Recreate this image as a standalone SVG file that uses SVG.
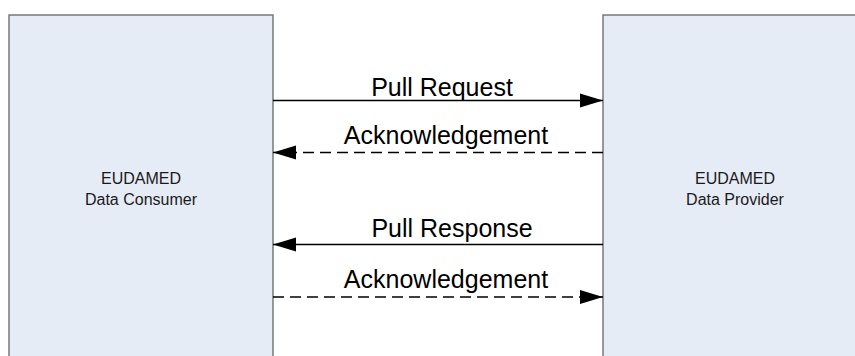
<svg xmlns="http://www.w3.org/2000/svg" width="855" height="356" viewBox="0 0 855 356">
  <style>
    .box { fill: #e6ecf6; stroke: #6f6f6f; stroke-width: 1.4; }
    .nlabel { font-family: "Liberation Sans", Arial, sans-serif; font-size: 16px; fill: #1a1a1a; text-anchor: middle; }
    .elabel { font-family: "Liberation Sans", Arial, sans-serif; font-size: 25px; fill: #000; text-anchor: middle; }
    .conn { stroke: #000; stroke-width: 1.6; fill: none; }
    .dash { stroke-dasharray: 11 6; }
  </style>
  <defs>
    <marker id="arrow" markerUnits="userSpaceOnUse" markerWidth="24" markerHeight="16" viewBox="0 0 24 16" refX="23" refY="8" orient="auto">
      <path d="M0,1 L23,8 L0,15 Z" fill="#000"/>
    </marker>
  </defs>
  <rect width="855" height="356" fill="#ffffff"/>
  <g id="consumer">
    <rect class="box" x="9" y="15" width="264" height="360"/>
    <text class="nlabel" x="141" y="184">EUDAMED</text>
    <text class="nlabel" x="141" y="205">Data Consumer</text>
  </g>
  <g id="provider">
    <rect class="box" x="603" y="15" width="264" height="360"/>
    <text class="nlabel" x="735" y="184">EUDAMED</text>
    <text class="nlabel" x="735" y="205">Data Provider</text>
  </g>
  <g id="connectors">
    <line class="conn" x1="273" y1="100.5" x2="603" y2="100.5" marker-end="url(#arrow)"/>
    <text class="elabel" x="442" y="96">Pull Request</text>
    <line class="conn dash" x1="603" y1="152.5" x2="273" y2="152.5" marker-end="url(#arrow)"/>
    <text class="elabel" x="446" y="144">Acknowledgement</text>
    <line class="conn" x1="603" y1="244.5" x2="273" y2="244.5" marker-end="url(#arrow)"/>
    <text class="elabel" x="452" y="237">Pull Response</text>
    <line class="conn dash" x1="273" y1="297" x2="603" y2="297" marker-end="url(#arrow)"/>
    <text class="elabel" x="446" y="288">Acknowledgement</text>
  </g>
</svg>
